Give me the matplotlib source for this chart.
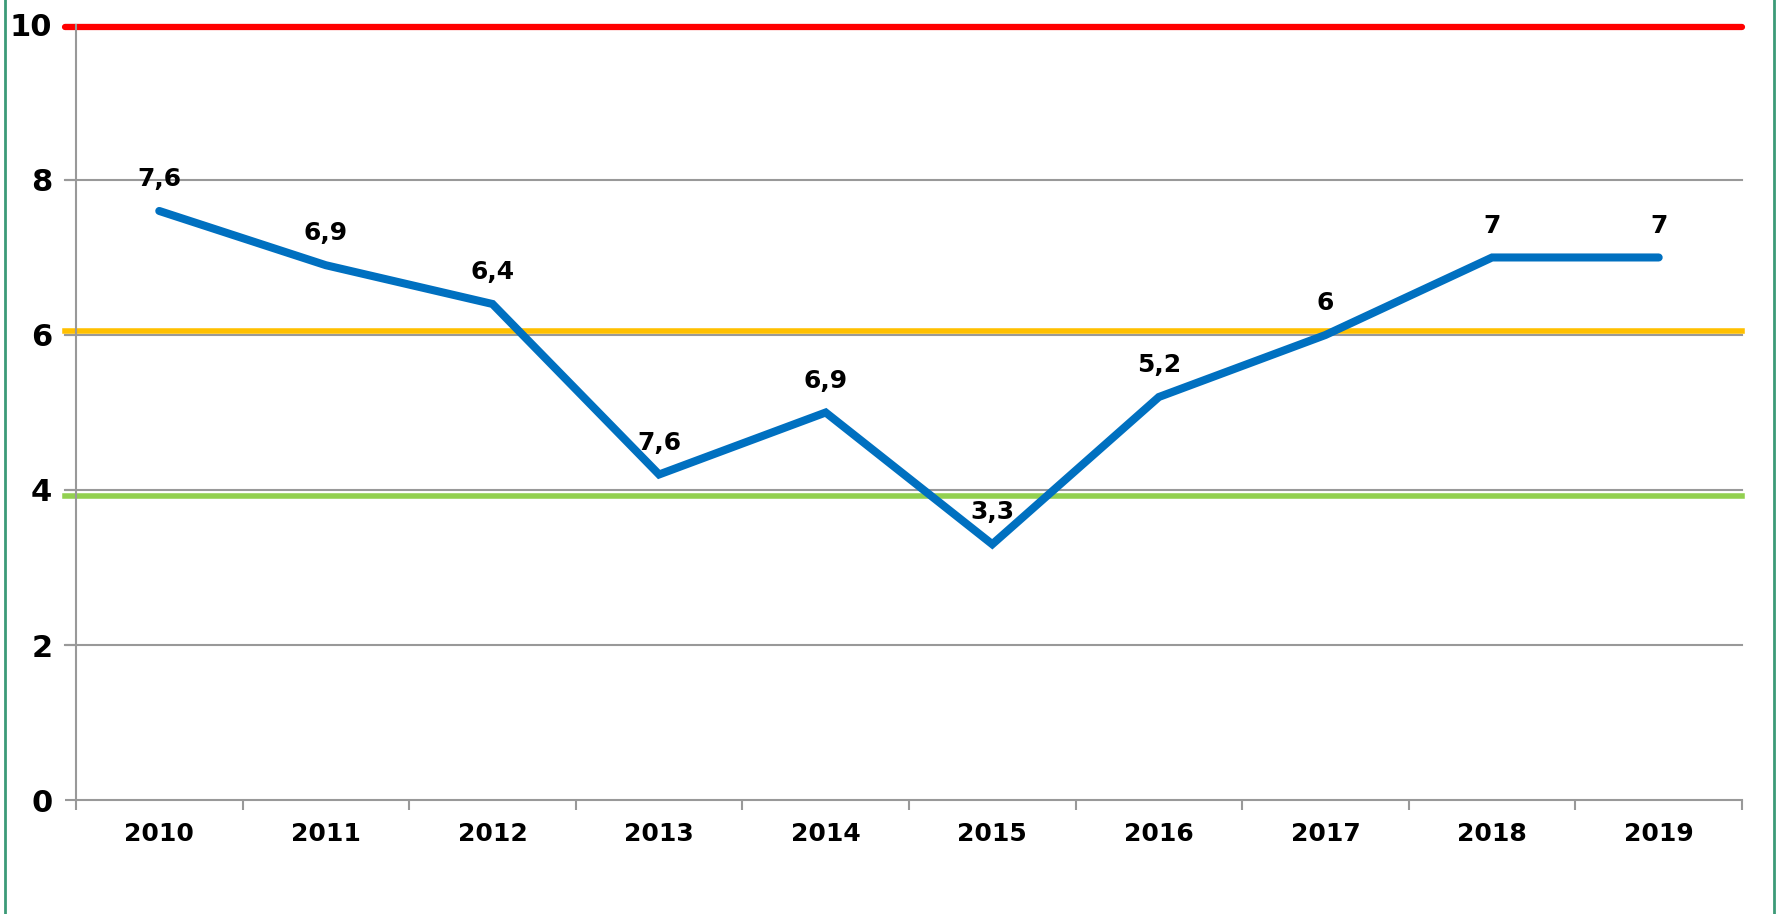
import matplotlib
matplotlib.use("Agg")
import matplotlib.pyplot as plt
from matplotlib.lines import Line2D

# data
years = ['2010', '2011', '2012', '2013', '2014', '2015', '2016', '2017', '2018', '2019']
values = [7.6, 6.9, 6.4, 4.2, 5.0, 3.3, 5.2, 6.0, 7.0, 7.0]
point_labels = ['7,6', '6,9', '6,4', '7,6', '6,9', '3,3', '5,2', '6', '7', '7']
y_ticks = [0, 2, 4, 6, 8, 10]
red_level = 9.97
yellow_level = 6.05
green_level = 3.92

plt.rcParams['font.family'] = ['DejaVu Sans Condensed', 'DejaVu Sans']
plt.rcParams['font.weight'] = 'bold'

grey = '#999999'

fig = plt.figure(figsize=(17.79, 9.14), dpi=100)
ax = fig.add_axes([0.0427, 0.1247, 0.9365, 0.848])

x = list(range(len(years)))

# grid lines
for yv in y_ticks[1:]:
    ax.axhline(yv, xmin=-0.0066, xmax=1, color=grey, lw=1.5, clip_on=False, zorder=1)

# reference levels
ax.axhline(red_level, xmin=-0.0066, xmax=1.0, color='#FF0000', lw=4.5,
           solid_capstyle='round', clip_on=False, zorder=2)
ax.axhline(yellow_level, xmin=-0.0066, xmax=1.0, color='#FFC000', lw=4.0,
           clip_on=False, zorder=2)
ax.axhline(green_level, xmin=-0.0066, xmax=1.0, color='#92D050', lw=4.0,
           clip_on=False, zorder=2)

ax.plot(x, values, color='#0070C0', lw=5.8, solid_capstyle='round',
        solid_joinstyle='miter', zorder=3, clip_on=False)

for xi, v, lab in zip(x, values, point_labels):
    ax.annotate(lab, (xi, v), xytext=(0, 23), textcoords='offset points',
                ha='center', va='center', fontsize=18, fontweight='bold', zorder=4)

ax.set_xlim(-0.5, len(years) - 0.5)
ax.set_ylim(0, 10)

ax.set_yticks(y_ticks)
ax.set_yticklabels([str(t) for t in y_ticks])
ax.set_xticks(x)
ax.set_xticklabels(years)
ax.set_xticks([i - 0.5 for i in range(len(years) + 1)], minor=True)

ax.tick_params(axis='y', length=8, width=1.5, color=grey, labelsize=22, pad=9)
ax.tick_params(axis='x', which='major', length=0, labelsize=18, pad=16)
ax.tick_params(axis='x', which='minor', length=7, width=1.5, color=grey)

for s in ['top', 'right']:
    ax.spines[s].set_visible(False)
for s in ['left', 'bottom']:
    ax.spines[s].set_color(grey)
    ax.spines[s].set_linewidth(1.5)
ax.spines['bottom'].set_zorder(1)

# green frame at the figure edges
fig.add_artist(Line2D([5 / 1779, 5 / 1779], [0, 1], color='#3C9A78', lw=2))
fig.add_artist(Line2D([1774 / 1779, 1774 / 1779], [0, 1], color='#3C9A78', lw=2))

fig.savefig('out.png', dpi=100, facecolor='white')
